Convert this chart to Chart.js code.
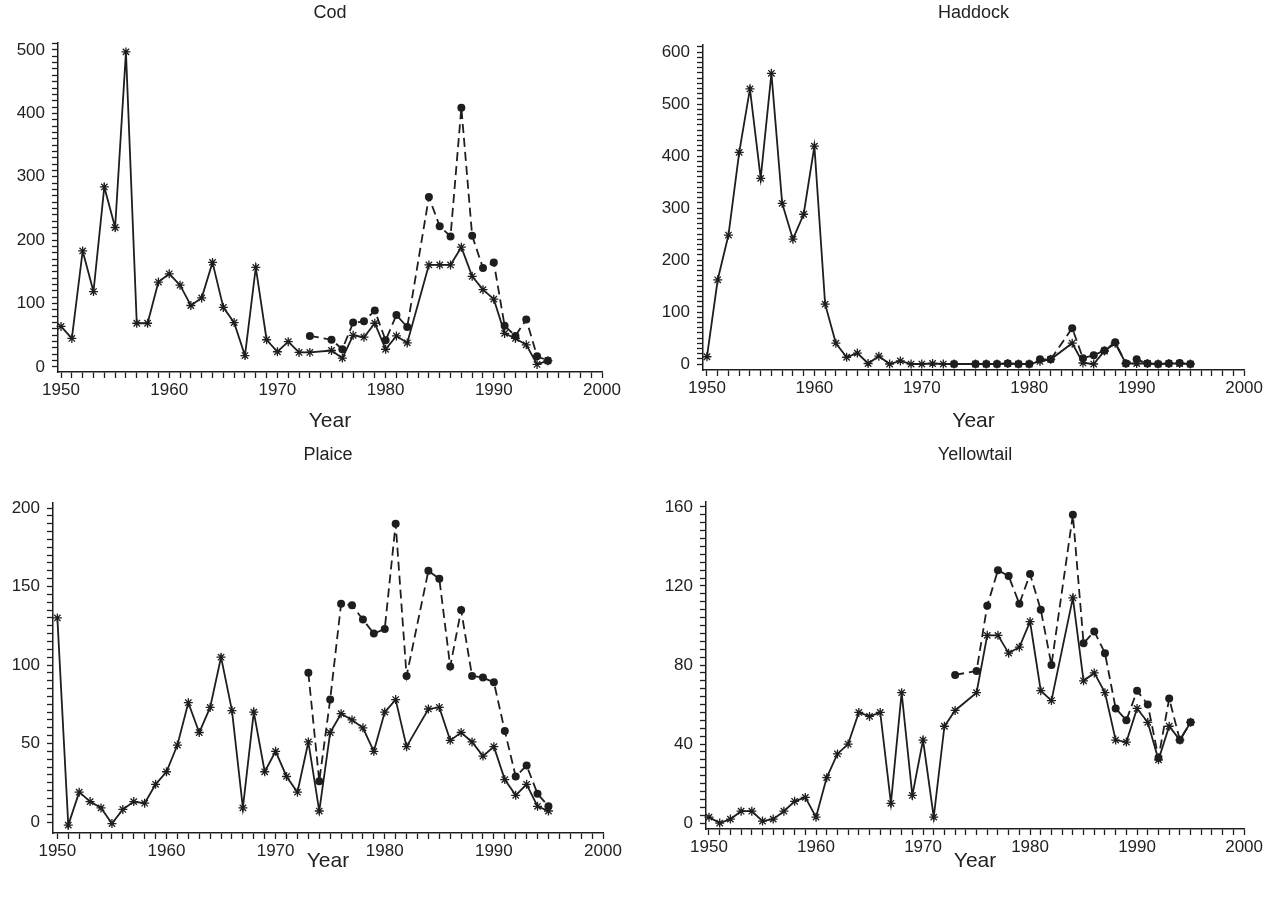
<!DOCTYPE html>
<html>
<head>
<meta charset="utf-8">
<title>Cod, Haddock, Plaice, Yellowtail</title>
<script src="https://cdn.jsdelivr.net/npm/chart.js@4.4.1/dist/chart.umd.min.js"></script>
<style>
  html, body { margin: 0; padding: 0; background: #fff; overflow: hidden; }
  canvas { position: absolute; }
</style>
</head>
<body>
<canvas id="codChart" width="632" height="450" style="left:0px;top:0px"></canvas>
<canvas id="haddockChart" width="633" height="450" style="left:632px;top:0px"></canvas>
<canvas id="plaiceChart" width="632" height="469" style="left:0px;top:430px"></canvas>
<canvas id="yellowtailChart" width="633" height="469" style="left:632px;top:430px"></canvas>
<script>
// Years on the x axis
var years = [1950, 1951, 1952, 1953, 1954, 1955, 1956, 1957, 1958, 1959,
             1960, 1961, 1962, 1963, 1964, 1965, 1966, 1967, 1968, 1969,
             1970, 1971, 1972, 1973, 1974, 1975, 1976, 1977, 1978, 1979,
             1980, 1981, 1982, 1983, 1984, 1985, 1986, 1987, 1988, 1989,
             1990, 1991, 1992, 1993, 1994, 1995];

// Solid line (stars) and dashed line (dots), one value per year, null = no value
var codSolid = [64, 45, 183, 119, 284, 220, 497, 69, 69, 134,
                147, 129, 97, 109, 165, 94, 70, 18, 157, 43,
                24, 40, 23, 23, null, 26, 14, 50, 47, 69,
                28, 49, 38, null, 161, 161, 161, 189, 143, 122,
                107, 53, 45, 35, 4, 10];
var codDashed = [null, null, null, null, null, null, null, null, null, null,
                 null, null, null, null, null, null, null, null, null, null,
                 null, null, null, 49, null, 43, 28, 70, 72, 89,
                 42, 82, 63, null, 268, 222, 206, 409, 207, 156,
                 165, 65, 49, 75, 17, 10];

var haddockSolid = [14, 162, 248, 407, 529, 357, 559, 309, 240, 288,
                    419, 115, 40, 13, 21, 1, 15, 0, 6, 0,
                    0, 1, 0, 0, null, 0, 0, 0, 1, 0,
                    0, 5, 9, null, 40, 2, 0, 25, 40, 1,
                    1, 1, 0, 1, 1, 0];
var haddockDashed = [null, null, null, null, null, null, null, null, null, null,
                     null, null, null, null, null, null, null, null, null, null,
                     null, null, null, 0, null, 0, 0, 0, 1, 0,
                     0, 9, 9, null, 69, 11, 17, 26, 42, 1,
                     9, 1, 0, 1, 2, 0];

var plaiceSolid = [130, -2, 19, 13, 9, -1, 8, 13, 12, 24,
                   32, 49, 76, 57, 73, 105, 71, 9, 70, 32,
                   45, 29, 19, 51, 7, 57, 69, 65, 60, 45,
                   70, 78, 48, null, 72, 73, 52, 57, 51, 42,
                   48, 27, 17, 24, 10, 7];
var plaiceDashed = [null, null, null, null, null, null, null, null, null, null,
                    null, null, null, null, null, null, null, null, null, null,
                    null, null, null, 95, 26, 78, 139, 138, 129, 120,
                    123, 190, 93, null, 160, 155, 99, 135, 93, 92,
                    89, 58, 29, 36, 18, 10];

var yellowtailSolid = [3, 0, 2, 6, 6, 1, 2, 6, 11, 13,
                       3, 23, 35, 40, 56, 54, 56, 10, 66, 14,
                       42, 3, 49, 57, null, 66, 95, 95, 86, 89,
                       102, 67, 62, null, 114, 72, 76, 66, 42, 41,
                       58, 51, 32, 49, 42, 51];
var yellowtailDashed = [null, null, null, null, null, null, null, null, null, null,
                        null, null, null, null, null, null, null, null, null, null,
                        null, null, null, 75, null, 77, 110, 128, 125, 111,
                        126, 108, 80, null, 156, 91, 97, 86, 58, 52,
                        67, 60, 33, 63, 42, 51];

var xLabelEvery = 10;
var axisTitle = 'Year';

Chart.defaults.font.family = "'Liberation Sans', Arial, Helvetica, sans-serif";
Chart.defaults.color = '#222';

var INK = '#1e1e1e';

function toPoints(values) {
    return years.map(function (yr, i) { return { x: yr, y: values[i] }; });
}

function onlyNonNegative(scale) {
    scale.ticks = scale.ticks.filter(function (t) { return t.value >= -1e-9; });
}

// box: canvas rect and wanted plot rect, page coordinates
function makePanel(id, title, solid, dashed, y, box) {
    var titleLine = 18 * 1.2;
    var yearLine = 21 * 1.2;
    var titlePadTop = box.titleY - box.canvasTop - titleLine / 2;
    var titlePadBottom = box.top - box.canvasTop - titlePadTop - titleLine;
    var xAxisHeight = box.canvasTop + box.canvasH - box.bottom;
    var yearPadBottom = box.canvasTop + box.canvasH - box.yearY - yearLine / 2;

    var ctx = document.getElementById(id).getContext('2d');
    return new Chart(ctx, {
        type: 'line',
        data: {
            datasets: [
                {
                    label: title + ' solid',
                    data: toPoints(solid),
                    borderColor: INK,
                    borderWidth: 1.8,
                    pointStyle: 'star',
                    pointRadius: 4.5,
                    pointBorderWidth: 1.3,
                    pointBorderColor: INK,
                    pointBackgroundColor: INK,
                    spanGaps: true,
                    tension: 0,
                    fill: false,
                    clip: false
                },
                {
                    label: title + ' dashed',
                    data: toPoints(dashed),
                    borderColor: INK,
                    borderWidth: 1.8,
                    borderDash: [9, 5],
                    pointStyle: 'circle',
                    pointRadius: 4,
                    pointBorderWidth: 0,
                    pointBackgroundColor: INK,
                    spanGaps: true,
                    tension: 0,
                    fill: false,
                    clip: false
                }
            ]
        },
        options: {
            responsive: false,
            animation: false,
            layout: {
                padding: { left: 0, top: 0, bottom: 0, right: box.canvasLeft + box.canvasW - box.right }
            },
            plugins: {
                legend: { display: false },
                tooltip: { enabled: false },
                title: {
                    display: true,
                    text: title,
                    fullSize: false,
                    color: '#222',
                    font: { size: 18, weight: 'normal' },
                    padding: { top: titlePadTop, bottom: titlePadBottom }
                }
            },
            scales: {
                x: {
                    type: 'linear',
                    min: box.xMin,
                    max: 2000,
                    afterFit: function (scale) { scale.height = xAxisHeight; },
                    border: { display: true, color: INK, width: 1.5 },
                    grid: { drawOnChartArea: false, drawTicks: true, tickLength: 6, tickColor: INK, tickWidth: 1.3 },
                    ticks: {
                        stepSize: 1,
                        includeBounds: false,
                        autoSkip: false,
                        maxRotation: 0,
                        padding: 2,
                        color: '#222',
                        font: { size: 17 },
                        callback: function (v) {
                            var r = Math.round(v);
                            return (Math.abs(v - r) < 1e-6 && r % xLabelEvery === 0) ? String(r) : '';
                        }
                    },
                    title: {
                        display: true,
                        text: axisTitle,
                        color: '#222',
                        font: { size: 21 },
                        padding: { top: 0, bottom: yearPadBottom }
                    }
                },
                y: {
                    type: 'linear',
                    min: y.min,
                    max: y.max,
                    afterFit: function (scale) { scale.width = box.left - box.canvasLeft; },
                    afterBuildTicks: onlyNonNegative,
                    border: { display: true, color: INK, width: 1.5 },
                    grid: { drawOnChartArea: false, drawTicks: true, tickLength: 6, tickColor: INK, tickWidth: 1.3 },
                    ticks: {
                        stepSize: y.step,
                        includeBounds: false,
                        autoSkip: false,
                        padding: 7,
                        color: '#222',
                        font: { size: 17 },
                        callback: function (v) {
                            var r = Math.round(v);
                            return (Math.abs(v - r) < 1e-6 && r % y.labelEvery === 0) ? String(r) : '';
                        }
                    }
                }
            }
        }
    });
}

makePanel('codChart', 'Cod', codSolid, codDashed,
    { min: -7.9, max: 511, step: 10, labelEvery: 100 },
    { canvasLeft: 0, canvasTop: 0, canvasW: 632, canvasH: 450,
      left: 58, right: 602, top: 43, bottom: 372, titleY: 13, yearY: 421, xMin: 1949.72 });

makePanel('haddockChart', 'Haddock', haddockSolid, haddockDashed,
    { min: -11.5, max: 613.5, step: 10, labelEvery: 100 },
    { canvasLeft: 632, canvasTop: 0, canvasW: 633, canvasH: 450,
      left: 703, right: 1245, top: 45, bottom: 370, titleY: 13, yearY: 421, xMin: 1949.63 });

makePanel('plaiceChart', 'Plaice', plaiceSolid, plaiceDashed,
    { min: -7, max: 203.2, step: 5, labelEvery: 50 },
    { canvasLeft: 0, canvasTop: 430, canvasW: 632, canvasH: 469,
      left: 53, right: 603, top: 503, bottom: 833, titleY: 455, yearY: 861, xMin: 1949.6 });

makePanel('yellowtailChart', 'Yellowtail', yellowtailSolid, yellowtailDashed,
    { min: -3, max: 162.5, step: 4, labelEvery: 40 },
    { canvasLeft: 632, canvasTop: 430, canvasW: 633, canvasH: 469,
      left: 706, right: 1250, top: 502, bottom: 829, titleY: 455, yearY: 861, xMin: 1949.72 });
</script>
</body>
</html>
